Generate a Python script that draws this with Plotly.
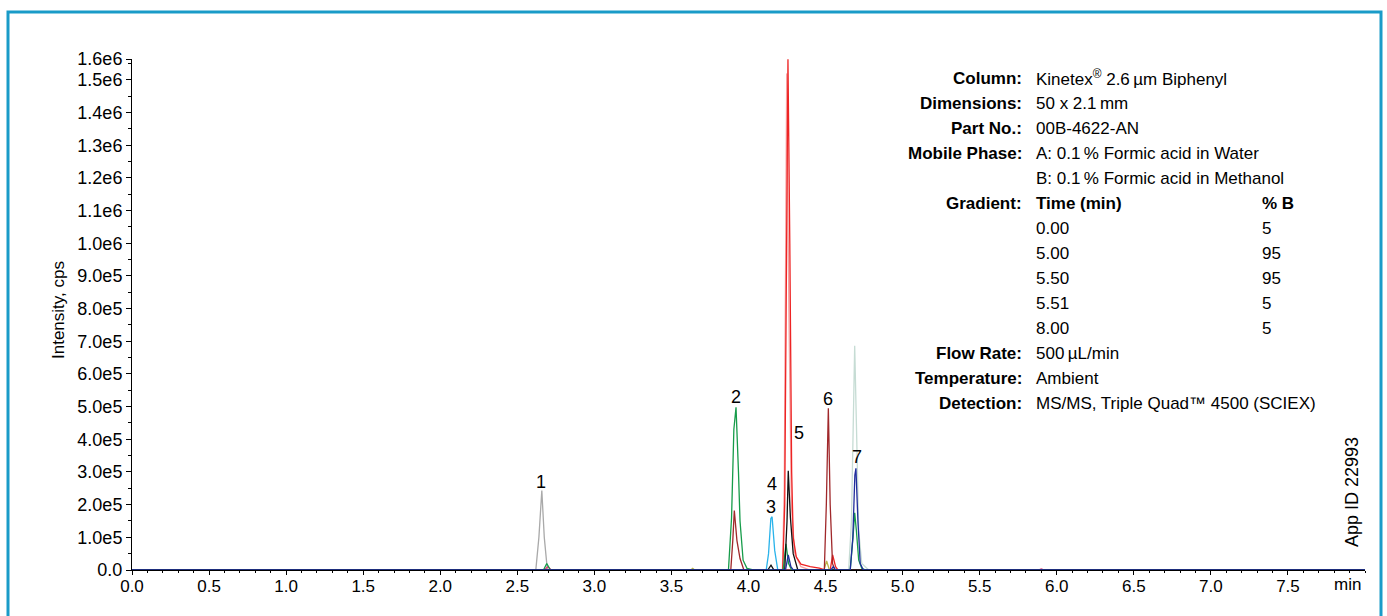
import plotly.graph_objects as go

# ---------------- data (time in min, intensity in cps) ----------------
gray_t = [0.0, 2.62, 2.64, 2.659, 2.675, 2.695, 8.0]
gray_i = [0, 0, 1.0e5, 2.43e5, 1.0e5, 0, 0]

graygreen_t = [0.0, 4.65, 4.668, 4.682, 4.689, 4.70, 4.715, 4.735, 4.78, 8.0]
graygreen_i = [0, 0, 1.5e5, 5.0e5, 6.86e5, 4.5e5, 1.2e5, 2.0e4, 0, 0]

pink_t = [0.0, 4.22, 4.232, 4.248, 4.262, 4.278, 4.30, 4.34, 4.40, 8.0]
pink_i = [0, 0, 2.5e5, 1.52e6, 8.0e5, 2.0e5, 5.0e4, 1.0e4, 0, 0]

red_t = [0.0, 4.222, 4.235, 4.248, 4.256, 4.268, 4.28, 4.29, 4.31, 4.34, 4.40, 4.46, 4.50,
         4.53, 4.546, 4.565, 4.58, 8.0]
red_i = [0, 0, 2.0e5, 1.1e6, 1.563e6, 1.0e6, 3.0e5, 1.0e5, 4.0e4, 1.8e4, 1.0e4, 6.0e3, 0,
         0, 4.6e4, 1.0e4, 0, 0]

olive_t = [0.0, 3.625, 3.638, 3.65, 4.49, 4.507, 4.525, 8.0]
olive_i = [0, 0, 5.0e3, 0, 0, 2.75e4, 0, 0]

magenta_t = [0.0, 2.675, 2.698, 2.72, 5.88, 5.90, 5.92, 8.0]
magenta_i = [0, 0, 1.0e4, 0, 0, 3.0e3, 0, 0]

cyan_t = [0.0, 4.115, 4.13, 4.145, 4.153, 4.17, 4.19, 8.0]
cyan_i = [0, 0, 5.0e4, 1.58e5, 1.63e5, 6.0e4, 0, 0]

brown_t = [0.0, 3.885, 3.898, 3.908, 3.925, 3.945, 3.97, 4.492, 4.505, 4.518, 4.53, 4.545, 4.56, 8.0]
brown_i = [0, 0, 9.0e4, 1.82e5, 9.0e4, 3.5e4, 0, 0, 2.0e5, 4.95e5, 2.0e5, 2.0e4, 0, 0]

green_t = [0.0, 2.67, 2.691, 2.715, 3.87, 3.89, 3.905, 3.919, 3.935, 3.945, 3.965, 3.99, 4.03,
           4.225, 4.243, 4.26, 4.28, 4.66, 4.678, 4.689, 4.70, 4.715, 4.735, 4.76, 8.0]
green_i = [0, 0, 2.0e4, 0, 0, 1.6e5, 4.3e5, 4.98e5, 3.0e5, 1.5e5, 3.0e4, 5.0e3, 0,
           0, 8.0e4, 2.0e4, 0, 0, 1.0e5, 1.75e5, 1.2e5, 3.0e4, 5.0e3, 0, 0]

black_t = [0.0, 4.125, 4.146, 4.165, 4.235, 4.25, 4.258, 4.272, 4.29, 4.32, 8.0]
black_i = [0, 0, 1.5e4, 0, 0, 1.5e5, 3.04e5, 1.6e5, 5.0e4, 0, 0]

blue_t = [0.0, 4.24, 4.258, 4.275, 4.29, 4.535, 4.55, 4.565, 4.66, 4.677, 4.69, 4.697, 4.71,
          4.725, 4.745, 8.0]
blue_i = [0, 0, 4.6e4, 1.0e4, 0, 0, 1.0e4, 0, 0, 1.0e5, 2.9e5, 3.11e5, 1.5e5, 2.0e4, 0, 0]

peak_labels = ["1", "2", "3", "4", "5", "6", "7"]
peak_label_t = [2.652, 3.919, 4.146, 4.154, 4.329, 4.518, 4.702]
peak_label_i = [2.70e5, 5.30e5, 1.94e5, 2.62e5, 4.20e5, 5.22e5, 3.45e5]

y_tick_vals = [0, 1e5, 2e5, 3e5, 4e5, 5e5, 6e5, 7e5, 8e5, 9e5, 1.0e6, 1.1e6, 1.2e6, 1.3e6,
               1.4e6, 1.5e6, 1.564e6]
y_tick_text = ["0.0", "1.0e5", "2.0e5", "3.0e5", "4.0e5", "5.0e5", "6.0e5", "7.0e5", "8.0e5",
               "9.0e5", "1.0e6", "1.1e6", "1.2e6", "1.3e6", "1.4e6", "1.5e6", "1.6e6"]
x_tick_vals = [0.0, 0.5, 1.0, 1.5, 2.0, 2.5, 3.0, 3.5, 4.0, 4.5, 5.0, 5.5, 6.0, 6.5, 7.0, 7.5]
x_tick_text = ["0.0", "0.5", "1.0", "1.5", "2.0", "2.5", "3.0", "3.5", "4.0", "4.5", "5.0",
               "5.5", "6.0", "6.5", "7.0", "7.5"]

info_labels = ["Column:", "Dimensions:", "Part No.:", "Mobile Phase:", "", "Gradient:", "", "",
               "", "", "", "Flow Rate:", "Temperature:", "Detection:"]
info_values = ["Kinetex<sup>®</sup> 2.6\u2009µm Biphenyl", "50 x 2.1\u2009mm", "00B-4622-AN",
               "A: 0.1\u2009% Formic acid in Water", "B: 0.1\u2009% Formic acid in Methanol",
               "<b>Time (min)</b>", "0.00", "5.00", "5.50", "5.51", "8.00",
               "500\u2009µL/min", "Ambient", "MS/MS, Triple Quad™ 4500 (SCIEX)"]
gradient_b = ["<b>% B</b>", "5", "95", "95", "5", "5"]

# ---------------- layout geometry ----------------
W, H = 1387, 616
L, R, T, B = 132, 22, 59, 46
PW, PH = W - L - R, H - T - B


def px(x):
    return (x - L) / PW


def py(y):
    return (H - B - y) / PH


FONT = "Liberation Sans, Arial, Helvetica, sans-serif"

fig = go.Figure()

series = [
    (graygreen_t, graygreen_i, "#c6dcd4"),
    (gray_t, gray_i, "#a9a9a9"),
    (pink_t, pink_i, "#f4a3a3"),
    (red_t, red_i, "#ee2424"),
    (olive_t, olive_i, "#b9b54a"),
    (magenta_t, magenta_i, "#e0407a"),
    (cyan_t, cyan_i, "#29b3ea"),
    (brown_t, brown_i, "#a0282b"),
    (green_t, green_i, "#169c4a"),
    (black_t, black_i, "#111111"),
    (blue_t, blue_i, "#1f2e9c"),
]
for t, i, c in series:
    fig.add_trace(go.Scatter(x=t, y=i, mode="lines", line=dict(color=c, width=1.3),
                             showlegend=False, hoverinfo="skip"))

annotations = []
for lab, t, i in zip(peak_labels, peak_label_t, peak_label_i):
    annotations.append(dict(x=t, y=i, xref="x", yref="y", text=lab, showarrow=False,
                            font=dict(size=18, color="black", family=FONT)))

row_y0, row_dy = 78, 25
for k, (lab, val) in enumerate(zip(info_labels, info_values)):
    yy = py(row_y0 + k * row_dy)
    if lab:
        annotations.append(dict(x=px(1024), y=yy, xref="paper", yref="paper", text=f"<b>{lab}</b>",
                                xanchor="right", yanchor="middle", showarrow=False,
                                font=dict(size=17, color="black", family=FONT)))
    annotations.append(dict(x=px(1034), y=yy, xref="paper", yref="paper", text=val,
                            xanchor="left", yanchor="middle", showarrow=False,
                            font=dict(size=17, color="black", family=FONT)))
for k, v in enumerate(gradient_b):
    yy = py(row_y0 + (5 + k) * row_dy)
    annotations.append(dict(x=px(1260), y=yy, xref="paper", yref="paper", text=v,
                            xanchor="left", yanchor="middle", showarrow=False,
                            font=dict(size=17, color="black", family=FONT)))

annotations.append(dict(x=px(58), y=py(310), xref="paper", yref="paper", text="Intensity, cps",
                        textangle=-90, showarrow=False, xanchor="center", yanchor="middle",
                        font=dict(size=17, color="black", family=FONT)))
annotations.append(dict(x=px(1352), y=py(492), xref="paper", yref="paper", text="App ID 22993",
                        textangle=-90, showarrow=False, xanchor="center", yanchor="middle",
                        font=dict(size=18, color="black", family=FONT)))
annotations.append(dict(x=px(1347), y=py(584), xref="paper", yref="paper", text="min",
                        showarrow=False, xanchor="center", yanchor="middle",
                        font=dict(size=17, color="black", family=FONT)))

fig.update_layout(
    width=W, height=H,
    margin=dict(l=L, r=R, t=T, b=B, pad=0),
    paper_bgcolor="white", plot_bgcolor="white",
    annotations=annotations,
    shapes=[dict(type="rect", xref="paper", yref="paper",
                 x0=px(8), x1=px(1381), y0=py(640), y1=py(12),
                 line=dict(color="#1a9bc8", width=3), layer="above")],
    xaxis=dict(range=[0, 8.0], showgrid=False, zeroline=False, showline=True,
               linecolor="black", linewidth=1, ticks="outside", ticklen=4, tickcolor="black",
               tickmode="array", tickvals=x_tick_vals, ticktext=x_tick_text,
               ticklabelstandoff=-3,
               tickfont=dict(size=17, color="black", family=FONT),
               minor=dict(tickmode="linear", tick0=0, dtick=0.1, ticks="outside", ticklen=2,
                          tickcolor="black")),
    yaxis=dict(range=[0, 1.564e6], showgrid=False, zeroline=False, showline=True,
               linecolor="black", linewidth=1, ticks="outside", ticklen=5, tickcolor="black",
               tickmode="array", tickvals=y_tick_vals, ticktext=y_tick_text,
               tickfont=dict(size=18, color="black", family=FONT),
               minor=dict(tickmode="linear", tick0=0, dtick=5e4, ticks="outside", ticklen=3,
                          tickcolor="black")),
)

fig.write_html("out.html", config={"displayModeBar": False},
               post_script="document.body.style.margin='0px';document.body.style.overflow='hidden';")
